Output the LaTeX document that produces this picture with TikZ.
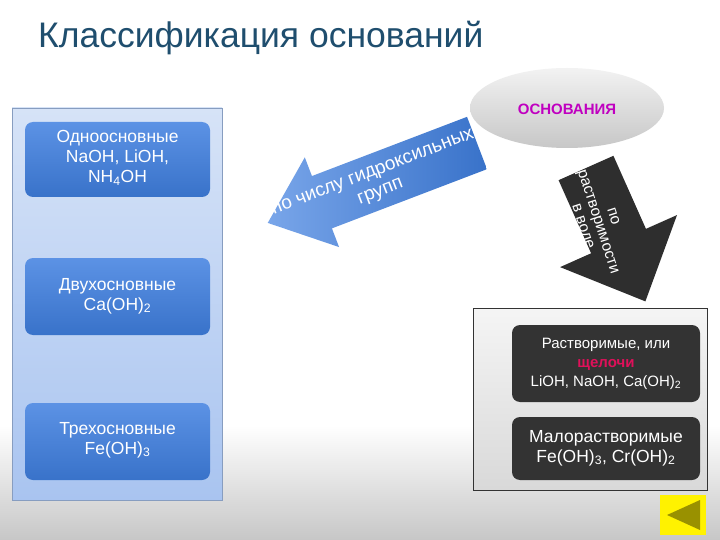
\documentclass[tikz,border=0pt]{standalone}
\usepackage{fontspec}
\setmainfont{Liberation Sans}
\usetikzlibrary{shapes.geometric}
\definecolor{titlec}{HTML}{1F4E6E}
\definecolor{bluebox}{HTML}{3F7FE0}
\definecolor{darkbox}{HTML}{333333}
\definecolor{mag}{HTML}{C000C0}
\definecolor{redc}{HTML}{E0105A}
\definecolor{panelt}{HTML}{D6E3F7}
\definecolor{panelb}{HTML}{A9C4F0}
\tikzset{
 bluebx/.style={rounded corners=8pt, top color=bluebox!85!white, bottom color=bluebox!90!black, draw=none},
 darkbx/.style={rounded corners=8pt, fill=darkbox},
 wtxt/.style={text=white, align=center, font=\fontsize{17.5}{20}\selectfont},
}
\begin{document}
\begin{tikzpicture}[x=1pt,y=1pt]
\useasboundingbox (0,0) rectangle (720,-540);
\fill[white] (0,0) rectangle (720,-540);
\shade[top color=white, bottom color=black!22] (0,-425) rectangle (720,-540);
\node[anchor=base west, text=titlec, font=\fontsize{35.5}{38}\selectfont, inner sep=0] (title) at (38,-48) {Классификация оснований};
% left panel
\draw[draw=panelb!80!black, top color=panelt, bottom color=panelb] (12,-108) rectangle (222,-500);
\path[bluebx] (25,-122) rectangle (210,-197);
\node[wtxt] (b1) at (117.5,-158) {Одноосновные\\NaOH, LiOH,\\NH\textsubscript{4}OH};
\path[bluebx] (25,-258) rectangle (210,-335);
\node[wtxt] (b2) at (117.5,-296) {Двухосновные\\Ca(OH)\textsubscript{2}};
\path[bluebx] (25,-403) rectangle (210,-480);
\node[wtxt] (b3) at (117.5,-440) {Трехосновные\\Fe(OH)\textsubscript{3}};
% ellipse
\node[ellipse, minimum width=194, minimum height=80, inner sep=0, top color=black!5, bottom color=black!22] (osn) at (567,-108) {};
\node[text=mag, font=\bfseries\fontsize{15}{17}\selectfont] at (567,-109) {ОСНОВАНИЯ};
% blue arrow
\begin{scope}[shift={(477,-143)}, rotate=200.9]
\path[left color=bluebox!70!white, right color=bluebox!90!black] (0,28) -- (166,28) -- (166,48) -- (224,0) -- (166,-48) -- (166,-28) -- (0,-28) -- cycle;
\end{scope}
\node[wtxt, rotate=21, font=\fontsize{19}{21}\selectfont] (t1) at (377,-183) {по числу гидроксильных\\групп};
% black arrow
\begin{scope}[shift={(586,-168)}, rotate=-66]
\fill[darkbox!90!black] (0,30) -- (80,30) -- (80,64) -- (146,0) -- (80,-64) -- (80,-30) -- (0,-30) -- cycle;
\end{scope}
\node[wtxt, rotate=-72, font=\fontsize{15.5}{16}\selectfont] (t2) at (597,-222) {по\\растворимости\\в воде};
% right panel
\draw[draw=darkbox, top color=black!4, bottom color=black!15] (473,-308) rectangle (707,-490);
\path[darkbx] (512,-325) rectangle (700,-402);
\node[text=white, align=center, font=\fontsize{15}{19}\selectfont] (r1) at (606,-364) {Растворимые, или\\{\color{redc}\bfseries щелочи}\\LiOH, NaOH, Ca(OH)\textsubscript{2}};
\path[darkbx] (512,-417) rectangle (700,-480);
\node[wtxt] (r2) at (606,-448) {Малорастворимые\\Fe(OH)\textsubscript{3}, Cr(OH)\textsubscript{2}};
% button
\fill[yellow] (660,-495) rectangle (706,-535);
\fill[olive!90!yellow] (667,-515) -- (700,-500) -- (700,-530) -- cycle;
\end{tikzpicture}
\end{document}
